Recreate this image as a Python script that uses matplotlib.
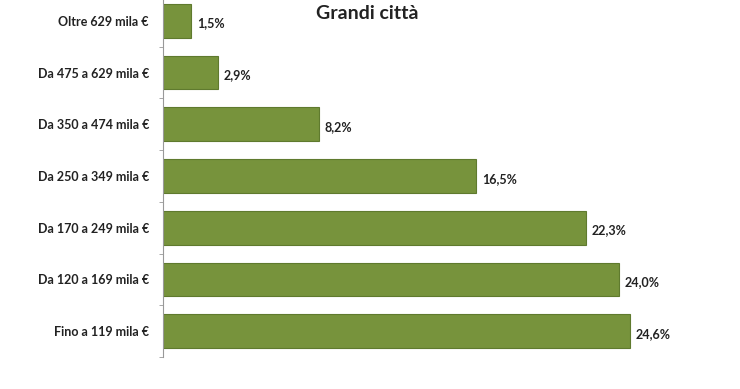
import numpy as np
import matplotlib.pyplot as plt

# dati
categorie = ['Fino a 119 mila €', 'Da 120 a 169 mila €', 'Da 170 a 249 mila €',
             'Da 250 a 349 mila €', 'Da 350 a 474 mila €', 'Da 475 a 629 mila €',
             'Oltre 629 mila €']
valori = [24.6, 24.0, 22.3, 16.5, 8.2, 2.9, 1.5]
etichette = ['24,6%', '24,0%', '22,3%', '16,5%', '8,2%', '2,9%', '1,5%']
titolo = 'Grandi città'

plt.rcParams['font.family'] = ['Lato', 'DejaVu Sans']

fig = plt.figure(figsize=(7.4, 3.89), dpi=100)
ax = fig.add_axes([0.220, 0.082, 0.770, 0.931])

y = np.arange(len(categorie))
ax.barh(y, valori, height=0.65, color='#77933c', edgecolor='#5f7a2e', linewidth=0.8)
for yi, v, t in zip(y, valori, etichette):
    ax.text(v + 0.3, yi - 0.05, t, va='center', ha='left', fontsize=9,
            fontweight='bold', color='#222222')

ax.set_xlim(0, 30)
ax.set_ylim(-0.5, len(categorie) - 0.5)
ax.set_yticks(y)
ax.set_yticklabels(categorie, fontsize=9, fontweight='bold', color='#222222')
ax.tick_params(axis='y', which='major', length=0, pad=10)
ax.set_yticks(np.arange(-0.5, len(categorie)), minor=True)
ax.tick_params(axis='y', which='minor', length=3, color='#999999')
ax.set_xticks([])

for s in ['top', 'right', 'bottom']:
    ax.spines[s].set_visible(False)
ax.spines['left'].set_color('#999999')

fig.text(0.496, 0.965, titolo, ha='center', va='center', fontsize=14,
         fontweight='bold', color='#222222')

fig.savefig('out.png', dpi=100)
